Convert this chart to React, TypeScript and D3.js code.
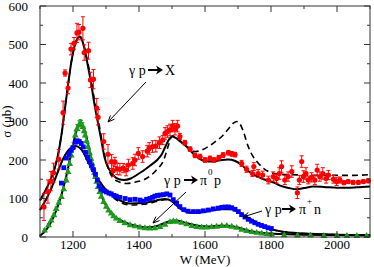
import * as d3 from 'd3';

// γp → X (total), [W, σ, error]
const totalData: [number, number, number][] = [
  [1112, 78, 35], [1124, 118, 30], [1133, 145, 25], [1141, 167, 25], [1157, 202, 25],
  [1170, 323, 30], [1176, 426, 8], [1185, 387, 15], [1194, 488, 15], [1203, 503, 15],
  [1212, 530, 25], [1218, 532, 20], [1230, 542, 30], [1234, 479, 20], [1247, 484, 22],
  [1253, 408, 20], [1262, 410, 25], [1272, 335, 25], [1276, 311, 20], [1293, 248, 20],
  [1306, 215, 25], [1317, 196, 18], [1322, 172, 15], [1327, 195, 12], [1334, 177, 15],
  [1342, 176, 15], [1352, 179, 12], [1361, 174, 15], [1368, 187, 15], [1381, 191, 15],
  [1388, 200, 15], [1398, 217, 15], [1411, 209, 15], [1425, 223, 15], [1431, 230, 15],
  [1441, 235, 15], [1451, 236, 15], [1462, 245, 15], [1472, 252, 12], [1479, 269, 15],
  [1486, 274, 15], [1494, 278, 15], [1502, 288, 15], [1509, 280, 15], [1517, 288, 15],
  [1524, 261, 8], [1539, 245, 6], [1555, 228, 6], [1570, 212, 6], [1585, 209, 6],
  [1600, 200, 6], [1615, 204, 6], [1628, 200, 6], [1642, 206, 6], [1655, 213, 6],
  [1671, 219, 6], [1681, 216, 6], [1691, 214, 6], [1711, 191, 8], [1726, 176, 8],
  [1744, 165, 8], [1748, 183, 10], [1761, 165, 10], [1775, 161, 10], [1792, 148, 10],
  [1807, 157, 12], [1817, 152, 12], [1825, 165, 15], [1832, 183, 15], [1842, 148, 12],
  [1852, 157, 12], [1863, 170, 15], [1880, 115, 15], [1886, 148, 12], [1893, 196, 15],
  [1898, 157, 15], [1906, 165, 15], [1913, 148, 10], [1923, 155, 12], [1933, 148, 12],
  [1940, 174, 15], [1948, 157, 12], [1957, 165, 15], [1967, 152, 12], [1974, 161, 12],
  [1989, 150, 10], [1999, 144, 10], [2009, 148, 8], [2021, 141, 5], [2034, 144, 5],
  [2049, 142, 5], [2065, 142, 5], [2080, 144, 5], [2095, 146, 5],
];

// γp → π+ n, [W, σ]
const piPlusData: [number, number][] = [
  [1165, 140], [1172, 180], [1180, 205], [1188, 215], [1195, 225], [1200, 232], [1207, 246],
  [1213, 250], [1219, 248], [1225, 243], [1231, 234], [1238, 220], [1244, 207], [1250, 196],
  [1256, 185], [1262, 175], [1268, 163], [1274, 148], [1280, 133], [1286, 124], [1294, 120],
  [1301, 117], [1309, 114], [1316, 112], [1324, 108], [1331, 106], [1342, 103], [1358, 100],
  [1373, 97], [1388, 98], [1403, 96], [1413, 93], [1423, 98], [1433, 100], [1441, 103],
  [1448, 106], [1456, 108], [1464, 109], [1474, 110], [1484, 112], [1494, 109], [1504, 97],
  [1514, 88], [1524, 79], [1536, 71], [1549, 67], [1565, 66], [1580, 66], [1595, 68],
  [1610, 70], [1625, 73], [1640, 75], [1651, 77], [1661, 78], [1671, 78], [1681, 76],
  [1691, 72], [1701, 66], [1711, 58], [1721, 52], [1731, 46], [1741, 41], [1751, 37],
  [1761, 33], [1771, 30], [1781, 27], [1791, 24], [1801, 22],
];

// γp → π0 p, [W, σ, error]
const piZeroData: [number, number, number][] = [
  [1114, 18, 3], [1126, 32, 3], [1134, 44, 3], [1142, 58, 4], [1149, 74, 4], [1157, 90, 5],
  [1165, 105, 5], [1172, 125, 6], [1180, 148, 7], [1185, 170, 8], [1190, 191, 8], [1195, 213, 9],
  [1200, 235, 10], [1207, 265, 10], [1212, 282, 10], [1218, 292, 10], [1222, 295, 10],
  [1226, 293, 10], [1230, 287, 10], [1234, 276, 10], [1237, 265, 9], [1241, 250, 9],
  [1245, 235, 8], [1250, 220, 8], [1254, 205, 7], [1258, 192, 7], [1261, 180, 6], [1265, 168, 6],
  [1268, 157, 6], [1272, 145, 5], [1276, 131, 5], [1281, 118, 5], [1286, 106, 4], [1293, 92, 4],
  [1301, 80, 3], [1308, 70, 3], [1316, 62, 3], [1323, 55, 3], [1331, 49, 2], [1342, 43, 2],
  [1357, 37, 2], [1373, 32, 2], [1388, 29, 2], [1403, 26, 2], [1418, 24, 2], [1433, 23, 2],
  [1448, 24, 2], [1464, 27, 2], [1479, 33, 2], [1494, 40, 2], [1504, 42, 2], [1514, 41, 2],
  [1529, 38, 2], [1544, 34, 2], [1560, 30, 2], [1575, 27, 2], [1590, 26, 2], [1605, 26, 2],
  [1620, 27, 2], [1635, 28, 2], [1651, 30, 2], [1666, 30, 2], [1681, 28, 2], [1696, 25, 2],
  [1711, 20, 2], [1726, 17, 2], [1742, 14, 2], [1757, 12, 2], [1772, 10, 2], [1787, 9, 2],
  [1802, 8, 2], [1840, 6, 2], [1880, 5, 2], [1920, 5, 2], [1960, 4, 2], [2000, 4, 2],
  [2030, 4, 2], [2060, 4, 2], [2090, 4, 2],
];

// model curves, [W, σ]
const totalFit: [number, number][] = [
  [1100, 95], [1115, 118], [1130, 145], [1145, 180], [1155, 215], [1165, 265], [1175, 330],
  [1185, 395], [1195, 455], [1205, 496], [1213, 515], [1220, 520], [1228, 510], [1235, 488],
  [1245, 445], [1255, 399], [1265, 345], [1276, 295], [1285, 255], [1296, 205], [1310, 175],
  [1322, 160], [1340, 150], [1355, 148], [1375, 152], [1393, 161], [1413, 172], [1433, 185],
  [1455, 200], [1469, 215], [1480, 235], [1490, 252], [1500, 261], [1510, 258], [1525, 248],
  [1544, 235], [1570, 212], [1590, 200], [1610, 196], [1630, 197], [1651, 200], [1670, 201],
  [1690, 198], [1711, 187], [1730, 172], [1752, 160], [1772, 152], [1792, 146], [1812, 140],
  [1832, 132], [1855, 127], [1878, 124], [1900, 127], [1928, 131], [1960, 130], [2000, 128],
  [2029, 128], [2060, 129], [2100, 131],
];
const totalFitAlt: [number, number][] = [
  [1100, 95], [1115, 118], [1130, 145], [1145, 180], [1155, 215], [1165, 265], [1175, 330],
  [1185, 395], [1195, 455], [1205, 496], [1213, 515], [1220, 521], [1228, 512], [1235, 492],
  [1245, 452], [1255, 408], [1265, 356], [1276, 306], [1285, 264], [1296, 212], [1310, 170],
  [1322, 152], [1340, 143], [1363, 139], [1390, 143], [1413, 148], [1433, 158], [1453, 174],
  [1474, 198], [1490, 240], [1500, 262], [1510, 262], [1525, 250], [1545, 235], [1570, 222],
  [1590, 226], [1610, 235], [1630, 247], [1651, 261], [1670, 280], [1685, 295], [1696, 300],
  [1705, 295], [1716, 275], [1731, 235], [1745, 210], [1757, 196], [1775, 180], [1792, 170],
  [1815, 164], [1850, 162], [1900, 161], [1950, 160], [2000, 160], [2050, 160], [2100, 162],
];
const piPlusFit: [number, number][] = [
  [1100, 70], [1110, 85], [1120, 100], [1130, 118], [1140, 138], [1150, 160], [1160, 183],
  [1170, 203], [1180, 218], [1190, 229], [1200, 235], [1210, 236], [1220, 232], [1230, 222],
  [1240, 205], [1250, 188], [1260, 172], [1270, 158], [1280, 145], [1290, 133], [1300, 123],
  [1316, 110], [1342, 95], [1373, 87], [1413, 88], [1453, 95], [1479, 99], [1499, 94],
  [1524, 74], [1555, 63], [1590, 64], [1620, 69], [1651, 72], [1680, 72], [1700, 65],
  [1721, 54], [1752, 40], [1792, 23], [1832, 14], [1900, 9], [2000, 6], [2100, 5],
];
const piPlusFitAlt: [number, number][] = [
  [1100, 70], [1110, 85], [1120, 100], [1130, 118], [1140, 138], [1150, 160], [1160, 183],
  [1170, 203], [1180, 218], [1190, 229], [1200, 235], [1210, 236], [1220, 232], [1230, 222],
  [1240, 206], [1250, 190], [1260, 174], [1270, 160], [1280, 146], [1290, 133], [1300, 121],
  [1316, 107], [1342, 91], [1373, 83], [1413, 85], [1453, 92], [1479, 97], [1499, 93],
  [1524, 75], [1555, 64], [1590, 66], [1620, 71], [1651, 75], [1680, 75], [1700, 67],
  [1721, 55], [1752, 40], [1792, 23], [1832, 14], [1900, 9], [2000, 6], [2100, 5],
];
const piZeroFit: [number, number][] = [
  [1100, 3], [1120, 20], [1140, 50], [1160, 95], [1180, 160], [1200, 240], [1210, 275],
  [1220, 292], [1225, 293], [1230, 288], [1240, 262], [1250, 225], [1260, 188], [1270, 153],
  [1280, 123], [1290, 100], [1300, 82], [1320, 58], [1340, 45], [1360, 37], [1380, 31],
  [1400, 27], [1420, 25], [1440, 26], [1460, 30], [1480, 37], [1500, 42], [1515, 43],
  [1530, 40], [1550, 35], [1580, 29], [1610, 27], [1640, 29], [1670, 29], [1690, 27],
  [1710, 22], [1740, 15], [1770, 11], [1800, 9], [1850, 7], [1900, 6], [2000, 5], [2100, 4],
];

const X_MAJOR = [1200, 1400, 1600, 1800, 2000];
const Y_MAJOR = [0, 100, 200, 300, 400, 500, 600];

const FONT = 'Liberation Serif, Times New Roman, serif';
const RED = '#ff0000';
const BLUE = '#0000ff';
const GREEN = '#1c9a1c';

export default function App() {
  const W = 374;
  const H = 267;
  const m = { left: 40, right: 370, top: 6, bottom: 237 };

  const x = d3.scaleLinear().domain([1100, 2100]).range([m.left, m.right]);
  const y = d3.scaleLinear().domain([0, 600]).range([m.bottom, m.top]);

  const line = d3.line<[number, number]>()
    .x(d => x(d[0]))
    .y(d => y(d[1]))
    .curve(d3.curveMonotoneX);

  const xMinor = d3.range(1100, 2101, 100).filter(v => !X_MAJOR.includes(v));
  const yMinor = d3.range(50, 600, 100);

  const tri = d3.symbol().type(d3.symbolTriangle).size(20)();

  // thick "→" used in the reaction labels
  const bigArrow = (x0: number, yy: number, len: number) => (
    <g>
      <line x1={x0} y1={yy} x2={x0 + len - 5} y2={yy} stroke="#000" strokeWidth={2} />
      <path d={`M${x0 + len},${yy} L${x0 + len - 7},${yy - 4.5} L${x0 + len - 5},${yy} L${x0 + len - 7},${yy + 4.5} Z`} fill="#000" />
    </g>
  );

  // thin pointer arrow with an open head
  const pointer = (x1: number, y1: number, x2: number, y2: number) => {
    const a = Math.atan2(y2 - y1, x2 - x1);
    const h = 7, s = 0.4;
    const p1 = [x2 - h * Math.cos(a - s), y2 - h * Math.sin(a - s)];
    const p2 = [x2 - h * Math.cos(a + s), y2 - h * Math.sin(a + s)];
    return (
      <g stroke="#000" strokeWidth={1} fill="none">
        <line x1={x1} y1={y1} x2={x2} y2={y2} />
        <path d={`M${p1[0]},${p1[1]} L${x2},${y2} L${p2[0]},${p2[1]}`} />
      </g>
    );
  };

  return (
    <svg width={W} height={H} style={{ position: 'absolute', left: 0, top: 0, background: '#fff' }}
      fontFamily={FONT}>
      {/* model curves */}
      <path d={line(totalFitAlt) ?? ''} fill="none" stroke="#000" strokeWidth={1.6} strokeDasharray="6,4" />
      <path d={line(piPlusFitAlt) ?? ''} fill="none" stroke="#000" strokeWidth={1.6} strokeDasharray="6,4" />
      <path d={line(totalFit) ?? ''} fill="none" stroke="#000" strokeWidth={2} />
      <path d={line(piPlusFit) ?? ''} fill="none" stroke="#000" strokeWidth={2} />
      <path d={line(piZeroFit) ?? ''} fill="none" stroke="#000" strokeWidth={2} />

      {/* π0 p data */}
      <g stroke={GREEN} strokeWidth={1}>
        {piZeroData.map((d, i) => (
          <g key={i}>
            <line x1={x(d[0])} x2={x(d[0])} y1={y(d[1] - d[2])} y2={y(d[1] + d[2])} />
            <line x1={x(d[0]) - 1.5} x2={x(d[0]) + 1.5} y1={y(d[1] + d[2])} y2={y(d[1] + d[2])} />
          </g>
        ))}
      </g>
      {piZeroData.map((d, i) => (
        <path key={i} d={tri ?? ''} transform={`translate(${x(d[0])},${y(d[1]) + 0.5})`} fill={GREEN} />
      ))}

      {/* π+ n data */}
      {piPlusData.map((d, i) => (
        <rect key={i} x={x(d[0]) - 2.4} y={y(d[1]) - 2.4} width={4.8} height={4.8} fill={BLUE} />
      ))}

      {/* total data */}
      <g stroke={RED} strokeWidth={1}>
        {totalData.map((d, i) => (
          <g key={i}>
            <line x1={x(d[0])} x2={x(d[0])} y1={y(d[1] - d[2])} y2={y(d[1] + d[2])} />
            <line x1={x(d[0]) - 2} x2={x(d[0]) + 2} y1={y(d[1] + d[2])} y2={y(d[1] + d[2])} />
            <line x1={x(d[0]) - 2} x2={x(d[0]) + 2} y1={y(d[1] - d[2])} y2={y(d[1] - d[2])} />
          </g>
        ))}
      </g>
      {totalData.map((d, i) => (
        <circle key={i} cx={x(d[0])} cy={y(d[1])} r={2.6} fill={RED} />
      ))}

      {/* frame and ticks */}
      <rect x={m.left} y={m.top} width={m.right - m.left} height={m.bottom - m.top}
        fill="none" stroke="#333" strokeWidth={1} />
      <g stroke="#333" strokeWidth={1}>
        {X_MAJOR.map(v => (
          <g key={v}>
            <line x1={x(v)} x2={x(v)} y1={m.bottom} y2={m.bottom - 6} />
            <line x1={x(v)} x2={x(v)} y1={m.top} y2={m.top + 6} />
          </g>
        ))}
        {xMinor.map(v => (
          <g key={v}>
            <line x1={x(v)} x2={x(v)} y1={m.bottom} y2={m.bottom - 3} />
            <line x1={x(v)} x2={x(v)} y1={m.top} y2={m.top + 3} />
          </g>
        ))}
        {Y_MAJOR.map(v => (
          <g key={v}>
            <line x1={m.left} x2={m.left + 6} y1={y(v)} y2={y(v)} />
            <line x1={m.right} x2={m.right - 6} y1={y(v)} y2={y(v)} />
          </g>
        ))}
        {yMinor.map(v => (
          <g key={v}>
            <line x1={m.left} x2={m.left + 3} y1={y(v)} y2={y(v)} />
            <line x1={m.right} x2={m.right - 3} y1={y(v)} y2={y(v)} />
          </g>
        ))}
      </g>
      <g fontSize={13} fill="#000">
        {X_MAJOR.map(v => (
          <text key={v} x={x(v)} y={249} textAnchor="middle">{v}</text>
        ))}
        {Y_MAJOR.map(v => (
          <text key={v} x={28} y={y(v) + 4.5} textAnchor="end">{v}</text>
        ))}
        <text x={205} y={264} textAnchor="middle">W (MeV)</text>
        <text transform={`translate(11,${(m.top + m.bottom) / 2}) rotate(-90)`} textAnchor="middle">σ (μb)</text>
      </g>

      {/* reaction labels */}
      <g fontSize={14} fill="#000">
        <text x={129} y={75}>γ p</text>
        {bigArrow(148, 70, 15)}
        <text x={165} y={75}>X</text>
        {pointer(146, 82, 108, 122)}

        <text x={164} y={185}>γ p</text>
        {bigArrow(184, 180, 14)}
        <text x={200} y={185}>π</text>
        <text x={208} y={175} fontSize={9}>0</text>
        <text x={214} y={185}>p</text>
        {pointer(186, 192, 153, 223)}

        <text x={265} y={214}>γ p</text>
        {bigArrow(282, 209, 14)}
        <text x={299} y={214}>π</text>
        <text x={307} y={204} fontSize={9}>+</text>
        <text x={314} y={214}>n</text>
        {pointer(262, 211, 243, 217)}
      </g>
    </svg>
  );
}
